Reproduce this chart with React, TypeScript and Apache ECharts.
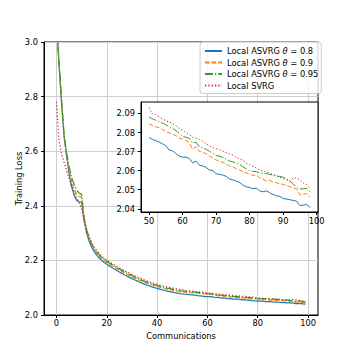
import React, { useEffect, useRef } from 'react';
import * as echarts from 'echarts';

// Communication rounds 0..99
const rounds: number[] = Array.from({ length: 100 }, (_, i) => i);

const seriesNames = ['Local ASVRG θ = 0.8', 'Local ASVRG θ = 0.9', 'Local ASVRG θ = 0.95', 'Local SVRG'];

const asvrg08 = [
  3.08, 2.92, 2.78, 2.655, 2.585, 2.52, 2.47, 2.44, 2.42, 2.415,
  2.413, 2.345, 2.30, 2.27, 2.248, 2.232, 2.219, 2.208, 2.200, 2.1925,
  2.1860, 2.1800, 2.1742, 2.1685, 2.1630, 2.1577, 2.1525, 2.1475, 2.1426, 2.1379,
  2.1334, 2.1290, 2.1248, 2.1207, 2.1168, 2.1132, 2.1097, 2.1064, 2.1032, 2.1002,
  2.0974, 2.0947, 2.0922, 2.0898, 2.0876, 2.0855, 2.0836, 2.0818, 2.0802, 2.0787,
  2.0774, 2.0764, 2.0757, 2.0750, 2.0741, 2.0730, 2.0708, 2.0704, 2.0690, 2.0676,
  2.0671, 2.0671, 2.0664, 2.0641, 2.0650, 2.0629, 2.0624, 2.0617, 2.0603, 2.0601,
  2.0584, 2.0580, 2.0577, 2.0570, 2.0556, 2.0552, 2.0545, 2.0538, 2.0524, 2.0515,
  2.0512, 2.0505, 2.0508, 2.0494, 2.0489, 2.0494, 2.0484, 2.0475, 2.0468, 2.0465,
  2.0454, 2.0451, 2.0447, 2.0444, 2.0440, 2.0417, 2.0419, 2.0423, 2.0407, 2.0400,
];

const asvrg09 = [
  3.08, 2.925, 2.785, 2.66, 2.59, 2.535, 2.49, 2.46, 2.443, 2.435,
  2.432, 2.35, 2.307, 2.278, 2.256, 2.240, 2.227, 2.216, 2.207, 2.1995,
  2.1930, 2.1872, 2.1814, 2.1757, 2.1702, 2.1649, 2.1597, 2.1547, 2.1498, 2.1451,
  2.1406, 2.1362, 2.1320, 2.1279, 2.1240, 2.1204, 2.1169, 2.1136, 2.1104, 2.1074,
  2.1046, 2.1019, 2.0994, 2.0970, 2.0948, 2.0927, 2.0908, 2.0890, 2.0874, 2.0859,
  2.0846, 2.0837, 2.0830, 2.0825, 2.0816, 2.0806, 2.0798, 2.0791, 2.0784, 2.0771,
  2.0767, 2.0757, 2.0748, 2.0712, 2.0725, 2.0701, 2.0697, 2.0688, 2.0676, 2.0668,
  2.0656, 2.0650, 2.0643, 2.0636, 2.0625, 2.0619, 2.0611, 2.0603, 2.0596, 2.0588,
  2.0582, 2.0575, 2.0577, 2.0563, 2.0555, 2.0546, 2.0549, 2.0540, 2.0536, 2.0531,
  2.0528, 2.0520, 2.0516, 2.0509, 2.0503, 2.0473, 2.0476, 2.0480, 2.0462, 2.0455,
];

const asvrg095 = [
  3.08, 2.93, 2.79, 2.665, 2.595, 2.545, 2.505, 2.478, 2.458, 2.447,
  2.442, 2.355, 2.311, 2.282, 2.260, 2.244, 2.231, 2.220, 2.211, 2.2035,
  2.1970, 2.1910, 2.1852, 2.1795, 2.1740, 2.1687, 2.1635, 2.1585, 2.1536, 2.1489,
  2.1444, 2.1400, 2.1358, 2.1317, 2.1278, 2.1242, 2.1207, 2.1174, 2.1142, 2.1112,
  2.1084, 2.1057, 2.1032, 2.1008, 2.0986, 2.0965, 2.0945, 2.0927, 2.0911, 2.0895,
  2.0881, 2.0872, 2.0864, 2.0857, 2.0850, 2.0840, 2.0831, 2.0822, 2.0810, 2.0797,
  2.0780, 2.0775, 2.0770, 2.0745, 2.0750, 2.0725, 2.0720, 2.0712, 2.0702, 2.0690,
  2.0679, 2.0676, 2.0670, 2.0661, 2.0650, 2.0646, 2.0640, 2.0632, 2.0620, 2.0610,
  2.0600, 2.0596, 2.0594, 2.0589, 2.0586, 2.0584, 2.0580, 2.0576, 2.0572, 2.0569,
  2.0566, 2.0556, 2.0545, 2.0530, 2.0512, 2.0503, 2.0505, 2.0507, 2.0489, 2.0482,
];

const svrg = [
  2.78, 2.64, 2.59, 2.56, 2.53, 2.50, 2.475, 2.452, 2.43, 2.41,
  2.39, 2.35, 2.315, 2.287, 2.265, 2.249, 2.236, 2.225, 2.2155, 2.2075,
  2.2010, 2.1950, 2.1892, 2.1835, 2.1780, 2.1727, 2.1675, 2.1625, 2.1576, 2.1529,
  2.1484, 2.1440, 2.1398, 2.1357, 2.1318, 2.1282, 2.1247, 2.1214, 2.1182, 2.1152,
  2.1124, 2.1097, 2.1072, 2.1048, 2.1026, 2.1005, 2.0985, 2.0967, 2.0951, 2.0938,
  2.0931, 2.0898, 2.0893, 2.0882, 2.0872, 2.0862, 2.0855, 2.0847, 2.0835, 2.0822,
  2.0812, 2.0800, 2.0790, 2.0775, 2.0770, 2.0764, 2.0754, 2.0740, 2.0731, 2.0720,
  2.0716, 2.0710, 2.0702, 2.0695, 2.0688, 2.0682, 2.0670, 2.0662, 2.0655, 2.0640,
  2.0630, 2.0622, 2.0614, 2.0605, 2.0598, 2.0592, 2.0588, 2.0580, 2.0573, 2.0566,
  2.0558, 2.0552, 2.0545, 2.0563, 2.0560, 2.0552, 2.0535, 2.0528, 2.0505, 2.0498,
];

const mainXTicks = [0, 20, 40, 60, 80, 100];
const insetXTicks = [50, 60, 70, 80, 90, 100];
const insetYTicks = [2.04, 2.05, 2.06, 2.07, 2.08, 2.09];
const insetStart = 50;
const insetEnd = 99; // exclusive

const FONT = 'DejaVu Sans';
const FS = 8.3;
const colors = ['#1f77b4', '#ff7f0e', '#2ca02c', '#d62728'];
const dashTypes: any[] = ['solid', [4.6, 2], [8, 2, 1.25, 2], [1.25, 2.1]];

export default function App() {
  const ref = useRef<HTMLDivElement>(null);
  useEffect(() => {
    if (!ref.current) return;
    const chart = echarts.init(ref.current, undefined, { renderer: 'svg' });
    const all = [asvrg08, asvrg09, asvrg095, svrg];
    const txt = { fontFamily: FONT, fontSize: FS, color: '#000' };
    const mainSeries = all.map((arr, k) => ({
      type: 'line',
      name: seriesNames[k],
      xAxisIndex: 0,
      yAxisIndex: 0,
      data: rounds.map((r, i) => [r, arr[i]]),
      symbol: 'none',
      showSymbol: false,
      clip: true,
      silent: true,
      z: 2,
      itemStyle: { color: colors[k] },
      lineStyle: { color: colors[k], width: 1.25, type: dashTypes[k] },
    }));
    const insetSeries = all.map((arr, k) => ({
      type: 'line',
      name: seriesNames[k],
      xAxisIndex: 1,
      yAxisIndex: 1,
      data: rounds.slice(insetStart, insetEnd).map((r) => [r, arr[r]]),
      symbol: 'none',
      showSymbol: false,
      clip: true,
      silent: true,
      z: 5,
      itemStyle: { color: colors[k] },
      lineStyle: { color: colors[k], width: 1, type: dashTypes[k] },
    }));
    const axisLine = { show: true, onZero: false, lineStyle: { color: '#000', width: 1 } };
    const axisTick = (vals?: number[]) => ({
      show: true,
      inside: false,
      length: 3,
      lineStyle: { color: '#000', width: 1 },
      ...(vals ? { customValues: vals } : {}),
    });
    chart.setOption({
      animation: false,
      backgroundColor: '#fff',
      legend: {
        show: true,
        orient: 'vertical',
        left: 200,
        top: 42,
        itemWidth: 17,
        itemHeight: 8,
        itemGap: 3.5,
        padding: [5, 3, 4, 4],
        backgroundColor: 'rgba(255,255,255,0.8)',
        borderColor: '#cccccc',
        borderWidth: 1,
        borderRadius: 3,
        z: 10,
        data: seriesNames,
        selectedMode: false,
        itemStyle: { opacity: 0, borderWidth: 0 },
        formatter: (n: string) => n.replace('θ', '{i|θ}'),
        textStyle: {
          ...txt,
          rich: { i: { fontFamily: FONT, fontSize: FS, fontStyle: 'italic', color: '#000' } },
        },
      },
      grid: [
        { left: 44, top: 42, width: 274, height: 273, show: true, borderColor: '#000', borderWidth: 1, backgroundColor: 'transparent', z: 0 },
        { left: 141, top: 102, width: 177, height: 110, show: true, borderColor: '#000', borderWidth: 1, backgroundColor: '#fff', z: 3 },
      ],
      xAxis: [
        {
          type: 'value', gridIndex: 0, min: -4.95, max: 103.95,
          axisLine, axisTick: axisTick(mainXTicks),
          axisLabel: { ...txt, margin: 4, customValues: mainXTicks },
          splitLine: { show: true, lineStyle: { color: '#cfcfcf', width: 1 } },
          name: 'Communications', nameLocation: 'middle', nameGap: 15,
          nameTextStyle: txt,
        },
        {
          type: 'value', gridIndex: 1, min: 47.6, max: 100.4, z: 4,
          axisLine, axisTick: axisTick(insetXTicks),
          axisLabel: { ...txt, margin: 5, customValues: insetXTicks },
          splitLine: { show: false },
        },
      ],
      yAxis: [
        {
          type: 'value', gridIndex: 0, min: 2.0, max: 3.0, interval: 0.2,
          axisLine, axisTick: axisTick(),
          axisLabel: { ...txt, margin: 6, formatter: (v: number) => v.toFixed(1) },
          splitLine: { show: true, lineStyle: { color: '#cfcfcf', width: 1 } },
          name: 'Training Loss', nameLocation: 'middle', nameGap: 21, nameRotate: 90,
          nameMoveOverlap: false,
          nameTextStyle: txt,
        },
        {
          type: 'value', gridIndex: 1, min: 2.0383, max: 2.096, z: 4,
          axisLine, axisTick: axisTick(insetYTicks),
          axisLabel: { ...txt, margin: 6, customValues: insetYTicks, formatter: (v: number) => v.toFixed(2) },
          splitLine: { show: false },
        },
      ],
      series: [...mainSeries, ...insetSeries],
    });
    return () => chart.dispose();
  }, []);
  return <div ref={ref} style={{ position: 'absolute', left: 0, top: 0, width: 354, height: 354 }} />;
}
